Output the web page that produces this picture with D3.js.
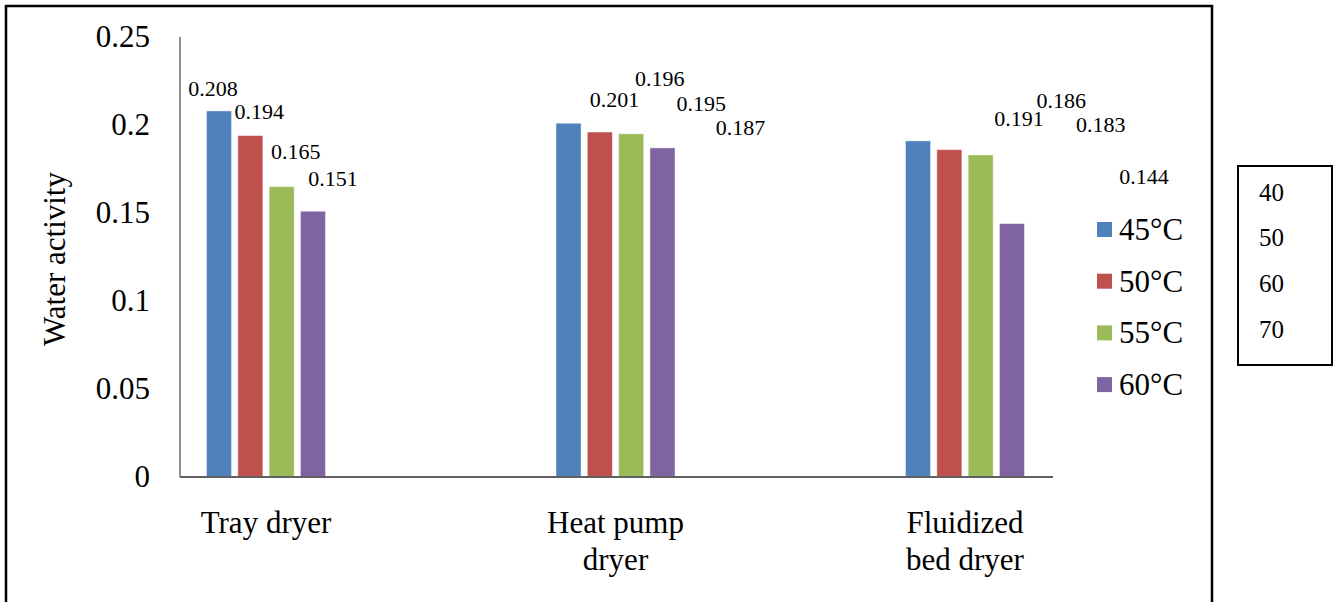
<!DOCTYPE html>
<html>
<head>
<meta charset="utf-8">
<script src="https://cdn.jsdelivr.net/npm/d3@7"></script>
<style>
  html, body { margin: 0; padding: 0; background: #fff; }
  svg { display: block; }
</style>
</head>
<body>
<svg id="chart" width="1335" height="602"></svg>
<script>
// Water activity of dried samples by dryer type and drying temperature
const dryers = ["Tray dryer", "Heat pump\ndryer", "Fluidized\nbed dryer"];
const temperatures = ["45°C", "50°C", "55°C", "60°C"];
const at45 = [0.208, 0.201, 0.191];
const at50 = [0.194, 0.196, 0.186];
const at55 = [0.165, 0.195, 0.183];
const at60 = [0.151, 0.187, 0.144];
const yTicks = [0, 0.05, 0.1, 0.15, 0.2, 0.25];
const sideNotes = ["40", "50", "60", "70"];

const seriesValues = [at45, at50, at55, at60];
const colors = ["#4F81BD", "#C0504D", "#9BBB59", "#8064A2"];

// hand-placed label nudges [dx, dy] from each bar's top centre, per dryer then temperature
const labelNudge = [
  [[-6, -22], [9, -24], [14, -35], [20, -32]],
  [[46, -23], [60, -53], [70, -30], [78, -20]],
  [[101, -22], [112, -49], [120, -30], [132, -47]]
];

const serif = '"Liberation Serif"';
const bigFont = 31;

const svg = d3.select("#chart");

// outer frame (its bottom edge runs past the canvas)
svg.append("rect")
  .attr("x", 6).attr("y", 6)
  .attr("width", 1206).attr("height", 620)
  .attr("fill", "none").attr("stroke", "#000").attr("stroke-width", 2.5);

const plot = { left: 180, right: 1053, top: 37, bottom: 477 };

const y = d3.scaleLinear().domain([0, 0.25]).range([plot.bottom, plot.top]);
const x0 = d3.scalePoint().domain(dryers).range([266, 965]);
const x1 = d3.scaleBand().domain(temperatures).range([-59.5, 59.5]).paddingInner(0.2).paddingOuter(0);

// y tick labels (no tick marks)
svg.append("g").selectAll("text")
  .data(yTicks)
  .join("text")
  .attr("x", 150)
  .attr("y", d => y(d) + 10)
  .attr("text-anchor", "end")
  .style("font-family", serif)
  .style("font-size", bigFont + "px")
  .text(d => d3.format("")(d));

// y axis line
svg.append("line")
  .attr("x1", plot.left).attr("x2", plot.left)
  .attr("y1", plot.top).attr("y2", plot.bottom)
  .attr("stroke", "#6b6b6b").attr("stroke-width", 1.5);

// bars
const groups = svg.append("g").selectAll("g")
  .data(dryers)
  .join("g")
  .attr("transform", d => `translate(${x0(d)},0)`);

groups.selectAll("rect")
  .data((d, i) => temperatures.map((t, j) => ({ t, j, i, v: seriesValues[j][i] })))
  .join("rect")
  .attr("x", d => x1(d.t))
  .attr("width", x1.bandwidth())
  .attr("y", d => y(d.v))
  .attr("height", d => y(0) - y(d.v))
  .attr("fill", d => colors[d.j])
  .attr("stroke", "#ffffff").attr("stroke-opacity", 0.45).attr("stroke-width", 1);

// value labels
groups.selectAll("text.val")
  .data((d, i) => temperatures.map((t, j) => ({ t, j, i, v: seriesValues[j][i] })))
  .join("text")
  .attr("class", "val")
  .attr("x", d => x1(d.t) + x1.bandwidth() / 2 + labelNudge[d.i][d.j][0])
  .attr("y", d => y(d.v) + labelNudge[d.i][d.j][1] + 7)
  .attr("text-anchor", "middle")
  .style("font-family", serif)
  .style("font-size", "22px")
  .text(d => d3.format(".3f")(d.v));

// x axis line
svg.append("line")
  .attr("x1", plot.left).attr("x2", plot.right)
  .attr("y1", plot.bottom).attr("y2", plot.bottom)
  .attr("stroke", "#5f5f5f").attr("stroke-width", 1.8);

// category labels, possibly two lines
svg.append("g").selectAll("text")
  .data(dryers)
  .join("text")
  .attr("x", d => x0(d))
  .attr("y", 533)
  .attr("text-anchor", "middle")
  .style("font-family", serif)
  .style("font-size", bigFont + "px")
  .each(function (d) {
    d.split("\n").forEach((line, k) => {
      d3.select(this).append("tspan")
        .attr("x", x0(d))
        .attr("dy", k === 0 ? 0 : 37)
        .text(line);
    });
  });

// y axis title
svg.append("text")
  .attr("transform", "translate(65,259) rotate(-90)")
  .attr("text-anchor", "middle")
  .style("font-family", serif)
  .style("font-size", bigFont + "px")
  .text("Water activity");

// legend
const legend = svg.append("g").selectAll("g")
  .data(temperatures)
  .join("g")
  .attr("transform", (d, i) => `translate(1097,${240 + i * 51.7})`);

legend.append("rect")
  .attr("x", 0).attr("y", -18)
  .attr("width", 15).attr("height", 15)
  .attr("fill", (d, i) => colors[i]);

legend.append("text")
  .attr("x", 22).attr("y", 0)
  .style("font-family", serif)
  .style("font-size", bigFont + "px")
  .text(d => d);

// side note box
svg.append("rect")
  .attr("x", 1238).attr("y", 166)
  .attr("width", 94).attr("height", 199)
  .attr("fill", "none").attr("stroke", "#000").attr("stroke-width", 2);

svg.append("g").selectAll("text")
  .data(sideNotes)
  .join("text")
  .attr("x", 1259)
  .attr("y", (d, i) => 200.5 + i * 45.9)
  .style("font-family", serif)
  .style("font-size", "25px")
  .text(d => d);
</script>
</body>
</html>
